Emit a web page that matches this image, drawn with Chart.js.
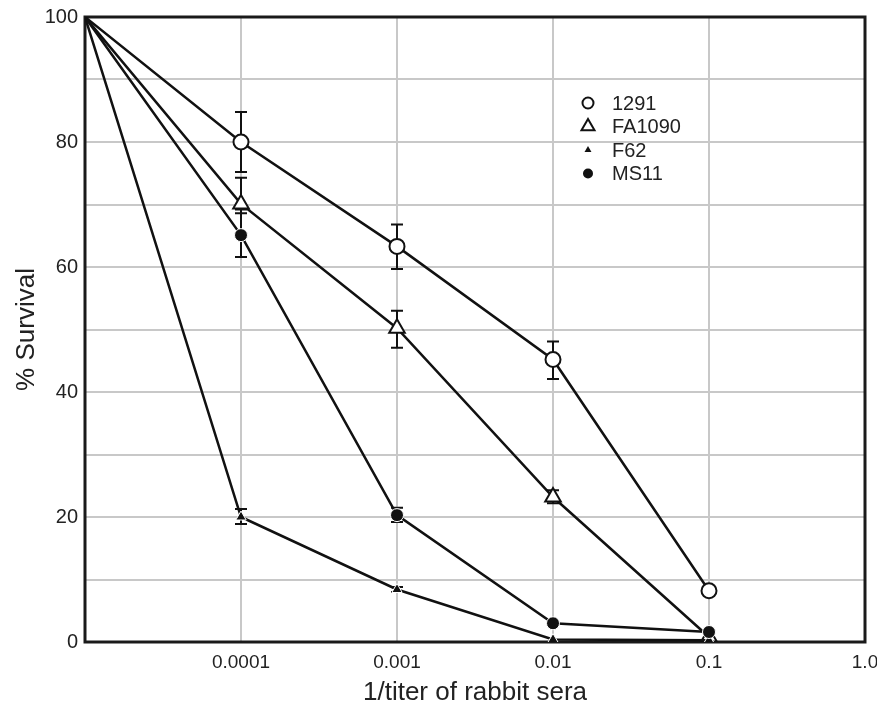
<!DOCTYPE html>
<html>
<head>
<meta charset="utf-8">
<script src="https://cdn.jsdelivr.net/npm/chart.js@4.4.0/dist/chart.umd.min.js"></script>
<style>
  html, body { margin: 0; padding: 0; background: #fff; }
  #wrap { width: 877px; height: 715px; }
</style>
</head>
<body>
<div id="wrap"><canvas id="c" width="877" height="715"></canvas></div>
<script>
// Category positions on the (evenly spaced) dilution axis; 0 = undiluted origin
const xPositions = [0, 1, 2, 3, 4];
const xTickLabels = ['', '0.0001', '0.001', '0.01', '0.1', '1.0'];
const yTickLabels = [0, 20, 40, 60, 80, 100];

const seriesNames = ['1291', 'FA1090', 'F62', 'MS11'];

const s1291   = [100, 80.0, 63.3, 45.2, 8.2];
const s1291Lo = [null, 75.2, 59.7, 42.1, null];
const s1291Hi = [null, 84.8, 66.8, 48.1, null];

const sFA1090   = [100, 70.1, 50.2, 23.2, 0.8];
const sFA1090Lo = [null, 68.6, 47.1, 22.2, null];
const sFA1090Hi = [null, 74.3, 53.0, 24.3, null];

const sF62   = [100, 20.0, 8.4, 0.4, 0.3];
const sF62Lo = [null, 18.9, 8.0, null, null];
const sF62Hi = [null, 21.3, 8.8, null, null];

const sMS11   = [100, 65.1, 20.3, 3.0, 1.6];
const sMS11Lo = [null, 61.6, 19.2, null, null];
const sMS11Hi = [null, 69.2, 21.5, null, null];

const FONT = "'Liberation Sans', Arial, Helvetica, sans-serif";

function pts(vals) { return xPositions.map((x, i) => ({ x: x, y: vals[i] })); }

const styles = [
  { pointStyle: 'circle',   radius: 7.5, fill: '#ffffff', border: '#111', bw: 2 },
  { pointStyle: 'triangle', radius: 9,   fill: '#ffffff', border: '#111', bw: 2 },
  { pointStyle: 'triangle', radius: 6,   fill: '#111',    border: '#ffffff', bw: 1 },
  { pointStyle: 'circle',   radius: 6.5, fill: '#111',    border: '#ffffff', bw: 1 }
];

const values = [s1291, sFA1090, sF62, sMS11];
const lows = [s1291Lo, sFA1090Lo, sF62Lo, sMS11Lo];
const highs = [s1291Hi, sFA1090Hi, sF62Hi, sMS11Hi];

const datasets = values.map((v, k) => ({
  label: seriesNames[k],
  data: pts(v),
  borderColor: '#111',
  borderWidth: 2.5,
  pointStyle: styles[k].pointStyle,
  pointRadius: xPositions.map((x, i) => i === 0 ? 0 : styles[k].radius),
  pointBackgroundColor: styles[k].fill,
  pointBorderColor: styles[k].border,
  pointBorderWidth: styles[k].bw,
  tension: 0,
  fill: false,
  errLo: lows[k],
  errHi: highs[k]
}));
datasets.reverse();

const framePlugin = {
  id: 'frameAndErrors',
  beforeDatasetsDraw(chart) {
    const { ctx, chartArea: a, scales } = chart;
    const xs = scales.x, ys = scales.y;
    ctx.save();
    ctx.strokeStyle = '#111';
    ctx.lineWidth = 2;
    chart.data.datasets.forEach(ds => {
      ds.data.forEach((p, i) => {
        const lo = ds.errLo[i], hi = ds.errHi[i];
        if (lo == null || hi == null) return;
        const px = xs.getPixelForValue(p.x);
        const yl = ys.getPixelForValue(lo), yh = ys.getPixelForValue(hi);
        ctx.beginPath();
        ctx.moveTo(px, yl); ctx.lineTo(px, yh);
        ctx.moveTo(px - 6, yl); ctx.lineTo(px + 6, yl);
        ctx.moveTo(px - 6, yh); ctx.lineTo(px + 6, yh);
        ctx.stroke();
      });
    });
    ctx.strokeStyle = '#1a1a1a';
    ctx.lineWidth = 3;
    ctx.strokeRect(a.left, a.top, a.right - a.left, a.bottom - a.top);
    ctx.restore();
  },
  afterDraw(chart) {
    const { ctx, chartArea: a } = chart;
    ctx.save();
    const x0 = a.left + 503, y0 = a.top + 86, dy = 23.5;
    ctx.font = "20px " + FONT;
    ctx.textBaseline = 'middle';
    seriesNames.forEach((name, k) => {
      const st = styles[k];
      const y = y0 + k * dy;
      const r = [5.5, 7.5, 4, 5][k];
      ctx.fillStyle = st.fill === '#111' ? '#111' : '#fff';
      ctx.strokeStyle = '#111';
      ctx.lineWidth = 2;
      ctx.beginPath();
      if (st.pointStyle === 'circle') {
        ctx.arc(x0, y, r, 0, Math.PI * 2);
      } else {
        ctx.moveTo(x0, y - r);
        ctx.lineTo(x0 + r * 0.87, y + r * 0.5);
        ctx.lineTo(x0 - r * 0.87, y + r * 0.5);
        ctx.closePath();
      }
      ctx.fill();
      if (k < 2) ctx.stroke();
      ctx.fillStyle = '#222';
      ctx.fillText(name, x0 + 24, y + 1);
    });
    ctx.restore();
  }
};

new Chart(document.getElementById('c'), {
  type: 'line',
  data: { datasets: datasets },
  options: {
    responsive: false,
    animation: false,
    events: [],
    layout: { padding: { top: 17, right: 12, left: 0, bottom: 0 } },
    plugins: { legend: { display: false }, tooltip: { enabled: false } },
    scales: {
      x: {
        type: 'linear', min: 0, max: 5,
        afterFit(s) { s.height = 73; s.paddingRight = 0; s.paddingLeft = 0; },
        border: { display: false },
        grid: {
          color: ctx => (ctx.tick && (ctx.tick.value === 0 || ctx.tick.value === 5)) ? 'rgba(0,0,0,0)' : '#c8c8c8',
          lineWidth: 2, drawTicks: false
        },
        ticks: {
          stepSize: 1, padding: 9, color: '#222',
          font: { family: FONT, size: 19 },
          callback: v => xTickLabels[v] ?? ''
        },
        title: {
          display: true, text: '1/titer of rabbit sera', color: '#222',
          font: { family: FONT, size: 26 }, padding: { top: 0, bottom: 7 }
        }
      },
      y: {
        type: 'linear', min: 0, max: 100,
        afterFit(s) { s.width = 85; s.paddingTop = 0; s.paddingBottom = 0; },
        border: { display: false },
        grid: {
          color: ctx => (ctx.tick && (ctx.tick.value === 0 || ctx.tick.value === 100)) ? 'rgba(0,0,0,0)' : '#c8c8c8',
          lineWidth: 2, drawTicks: false
        },
        ticks: {
          stepSize: 10, padding: 7, color: '#222',
          font: { family: FONT, size: 20 },
          callback: v => yTickLabels.includes(v) ? String(v) : ''
        },
        title: {
          display: true, text: '% Survival', color: '#222',
          font: { family: FONT, size: 26 }, padding: { top: 11, bottom: 0 }
        }
      }
    }
  },
  plugins: [framePlugin]
});
</script>
</body>
</html>
